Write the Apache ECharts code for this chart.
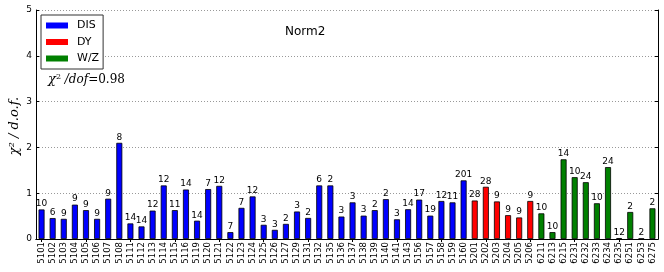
<!DOCTYPE html>
<html><head><meta charset="utf-8">
<script src="https://cdn.jsdelivr.net/npm/echarts@6/dist/echarts.min.js"></script>
<style>html,body{margin:0;padding:0;background:#fff}#c{width:664px;height:272px}</style>
</head><body><div id="c"></div>
<script>
var disCats = ['5101','5102','5103','5104','5105','5106','5107','5108','5111','5112','5113','5114','5115','5116','5119','5120','5121','5122','5123','5124','5125','5126','5127','5129','5131','5132','5135','5136','5137','5138','5139','5140','5141','5143','5156','5157','5158','5159','5160'];
var disVals = [0.645,0.457,0.44,0.75,0.63,0.44,0.88,2.10,0.34,0.275,0.62,1.17,0.63,1.08,0.40,1.09,1.16,0.15,0.68,0.93,0.31,0.20,0.33,0.60,0.46,1.17,1.17,0.49,0.80,0.51,0.63,0.87,0.43,0.65,0.86,0.51,0.83,0.80,1.28];
var disN = [10,6,9,9,9,9,9,8,14,14,12,12,11,14,14,7,12,7,7,12,3,3,2,3,2,6,2,3,3,3,2,2,3,14,17,19,12,11,201];
var dyCats = ['5201','5202','5203','5204','5205','5206'];
var dyVals = [0.84,1.14,0.82,0.52,0.47,0.83];
var dyN = [28,28,9,9,9,9];
var wzCats = ['6211','6213','6215','6231','6232','6233','6234','6235','6251','6253','6275'];
var wzVals = [0.56,0.15,1.74,1.35,1.24,0.78,1.57,0.02,0.59,0.01,0.67];
var wzN = [10,10,14,10,24,10,24,12,2,2,2];
var yTicks = [0,1,2,3,4,5];

var cats = disCats.concat(dyCats, wzCats);
var nAll = disN.concat(dyN, wzN);
function mk(vals, offset) {
  var arr = cats.map(function(){ return '-'; });
  vals.forEach(function(v, i){ arr[offset + i] = v; });
  return arr;
}
var groups = [
  {name:'DIS', color:'#0000ff', vals:disVals, off:0},
  {name:'DY', color:'#ff0000', vals:dyVals, off:disCats.length},
  {name:'W/Z', color:'#008000', vals:wzVals, off:disCats.length + dyCats.length}
];
var font = 'DejaVu Sans';
var series = groups.map(function(g){
  return {
    name: g.name, type: 'bar', stack: 'all', barWidth: '54%',
    data: mk(g.vals, g.off),
    itemStyle: {color: g.color, borderColor: '#000', borderWidth: 0.8},
    label: {show: true, position: 'top', distance: 1, color: '#000', fontFamily: font, fontSize: 9,
      formatter: function(p){ return String(nAll[p.dataIndex]); }},
    emphasis: {disabled: true}
  };
});
var chart = echarts.init(document.getElementById('c'), null, {renderer: 'canvas'});
chart.setOption({
  animation: false,
  backgroundColor: '#fff',
  grid: {left: 36, right: 6, top: 10, bottom: 33, containLabel: false},
  legend: {
    orient: 'vertical', left: 41, top: 15, padding: [4, 4, 4, 5],
    borderColor: '#333', borderWidth: 1, backgroundColor: '#fff',
    icon: 'rect', itemWidth: 22, itemHeight: 6, itemGap: 3.5,
    itemStyle: {borderWidth: 0},
    textStyle: {fontFamily: font, fontSize: 11, color: '#000', padding: [0,0,0,4], lineHeight: 13},
    data: ['DIS','DY','W/Z']
  },
  xAxis: [
    {type: 'category', data: cats, position: 'bottom',
      axisLine: {lineStyle: {color: '#000', width: 1}},
      axisTick: {show: false},
      axisLabel: {rotate: 90, interval: 0, fontFamily: font, fontSize: 8.5, color: '#000', margin: 3}},
    {type: 'category', data: cats, position: 'top',
      axisLine: {lineStyle: {color: '#000', width: 1}},
      axisTick: {show: true, inside: true, alignWithLabel: true, length: 3, lineStyle: {color: '#000'}},
      axisLabel: {show: false}}
  ],
  yAxis: [
    {type: 'value', min: 0, max: 5, interval: 1, position: 'left',
      axisLine: {show: true, lineStyle: {color: '#000', width: 1}},
      axisTick: {show: true, inside: true, length: 3, lineStyle: {color: '#000'}},
      axisLabel: {show: true, hideOverlap: false, fontFamily: font, fontSize: 9, color: '#000', margin: 4,
        formatter: function(v){ return yTicks.indexOf(v) >= 0 ? String(v) : ''; }},
      splitLine: {show: true, lineStyle: {color: '#999', type: [1, 2], width: 1}}},
    {type: 'value', min: 0, max: 5, interval: 1, position: 'right',
      axisLine: {show: true, lineStyle: {color: '#000', width: 1}},
      axisTick: {show: true, inside: true, length: 3, lineStyle: {color: '#000'}},
      axisLabel: {show: false}, splitLine: {show: false}}
  ],
  graphic: [
    {type: 'text', left: 285, top: 26, style: {text: 'Norm2', fontFamily: font, fontSize: 12, fill: '#000'}},
    {type: 'text', x: 15, y: 126, rotation: Math.PI / 2, style: {
      text: 'χ² / d.o.f.', fontFamily: 'DejaVu Serif', fontStyle: 'italic', fontSize: 13, fill: '#000',
      textAlign: 'center', textVerticalAlign: 'middle'}},
    {type: 'text', left: 48, top: 73, style: {
      text: '{a|χ}{b|2}{c| /dof}{d|=0.98}',
      rich: {
        a: {fontFamily: 'DejaVu Serif', fontStyle: 'italic', fontSize: 13, fill: '#000'},
        b: {fontFamily: 'DejaVu Serif', fontSize: 8, fill: '#000', verticalAlign: 'top', padding: [0,0,6,0]},
        c: {fontFamily: 'DejaVu Serif', fontStyle: 'italic', fontSize: 12, fill: '#000'},
        d: {fontFamily: 'DejaVu Serif', fontSize: 12, fill: '#000'}
      }}}
  ],
  series: series
});
</script></body></html>
